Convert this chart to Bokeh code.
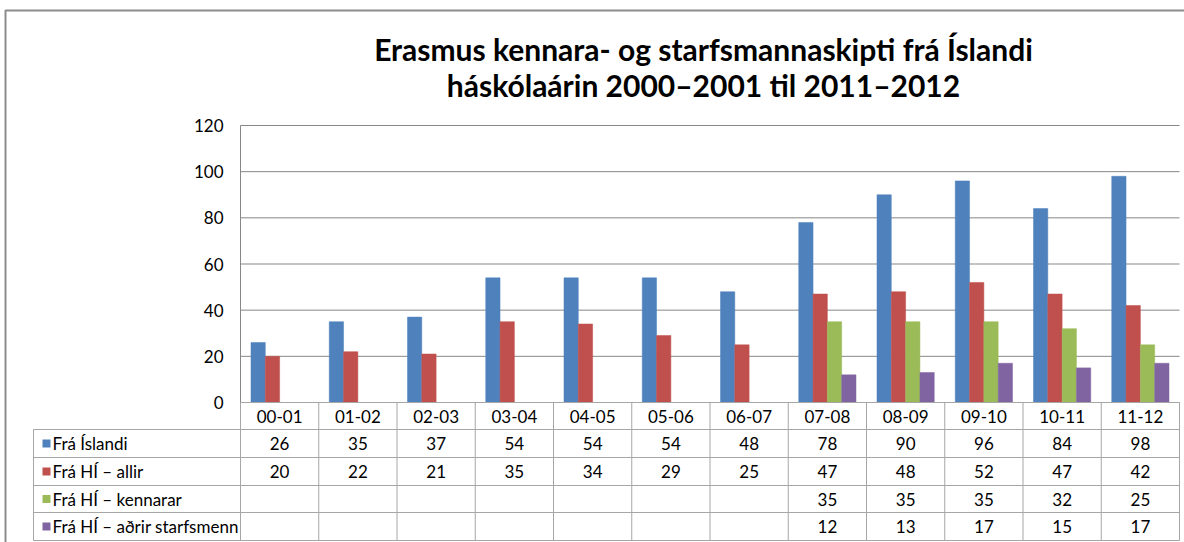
from bokeh.plotting import figure
from bokeh.models import Range1d, ColumnDataSource
from bokeh.core.properties import value
from bokeh.embed import file_html
from bokeh.resources import INLINE

# ---------------- data ----------------
categories = ["00-01", "01-02", "02-03", "03-04", "04-05", "05-06",
              "06-07", "07-08", "08-09", "09-10", "10-11", "11-12"]
series_names = ["Frá Íslandi", "Frá HÍ – allir", "Frá HÍ – kennarar",
                "Frá HÍ – aðrir starfsmenn"]
fra_islandi = [26, 35, 37, 54, 54, 54, 48, 78, 90, 96, 84, 98]
fra_hi_allir = [20, 22, 21, 35, 34, 29, 25, 47, 48, 52, 47, 42]
fra_hi_kennarar = [None, None, None, None, None, None, None, 35, 35, 35, 32, 25]
fra_hi_adrir = [None, None, None, None, None, None, None, 12, 13, 17, 15, 17]
y_ticks = [0, 20, 40, 60, 80, 100, 120]
title_lines = ["Erasmus kennara- og starfsmannaskipti frá Íslandi",
               "háskólaárin 2000–2001 til 2011–2012"]

series_values = [fra_islandi, fra_hi_allir, fra_hi_kennarar, fra_hi_adrir]
colors = ["#4F81BD", "#C0504D", "#9BBB59", "#8064A2"]

# ---------------- layout (page pixels -> data units) ----------------
W, H = 1184, 542
PAGE_OFF = 0
X0_PX = 240.0        # page x of category axis start
CAT_PX = 78.25       # page px per category
Y0_PX = 402.0        # page y of value 0
UNIT_PX = 277.0 / 120.0  # page px per value unit

def dx(px):
    return (px - X0_PX) / CAT_PX

def dy(py):
    return (Y0_PX - py) / UNIT_PX

FONT = "Lato"
FS = "17px"

p = figure(width=W, height=H, output_backend="svg", toolbar_location=None,
           x_range=Range1d(dx(PAGE_OFF), dx(PAGE_OFF + W)),
           y_range=Range1d(dy(PAGE_OFF + H), dy(PAGE_OFF)),
           min_border=0, min_border_left=0, min_border_right=0,
           min_border_top=0, min_border_bottom=0)
p.axis.visible = False
p.grid.visible = False
p.outline_line_color = None
p.background_fill_color = "white"
p.border_fill_color = "white"

n = len(categories)

# outer chart frame (left and top edges visible)
p.line(x=[dx(5), dx(5), dx(1190)], y=[dy(545), dy(10), dy(10)],
       line_color="#8C8C8C", line_width=2)

# title
for i, t in enumerate(title_lines):
    p.text(x=[dx(703)], y=[dy(48 + 36 * i)], text=[t],
           text_font=value(FONT), text_font_style="bold",
           text_font_size="30px", text_align="center",
           text_baseline="middle", text_color="#000000")

# gridlines
p.segment(x0=[0] * len(y_ticks), x1=[n] * len(y_ticks),
          y0=y_ticks, y1=y_ticks, line_color="#878787", line_width=1)
# value axis line
p.segment(x0=[0], x1=[0], y0=[0], y1=[y_ticks[-1]],
          line_color="#878787", line_width=1)

# y tick labels
p.text(x=[dx(223)] * len(y_ticks), y=y_ticks, text=[str(v) for v in y_ticks],
       text_font=value(FONT), text_font_size=FS, text_align="right",
       text_baseline="middle", text_color="#000000")

# bars
bar_w = 14.3 / CAT_PX
offsets = [-0.2745, -0.0915, 0.0915, 0.2745]
for s, vals in enumerate(series_values):
    xs, tops = [], []
    for i, v in enumerate(vals):
        if v is not None:
            xs.append(i + 0.5 + offsets[s])
            tops.append(v)
    src = ColumnDataSource(dict(x=xs, top=tops))
    p.vbar(x="x", top="top", bottom=0, width=bar_w, source=src,
           fill_color=colors[s], line_color=colors[s], line_width=0.5)

# ---------------- data table ----------------
row_edges_px = [402, 429, 457, 485, 512, 540]
table_left = dx(33)
grid_col = "#A6A6A6"
# horizontal lines
hx0, hx1, hy = [], [], []
for k, ry in enumerate(row_edges_px):
    hx0.append(0 if k == 0 else table_left)
    hx1.append(n)
    hy.append(dy(ry))
p.segment(x0=hx0, x1=hx1, y0=hy, y1=hy, line_color=grid_col, line_width=1)
# vertical lines
vx = list(range(n + 1))
p.segment(x0=vx, x1=vx, y0=[dy(row_edges_px[0])] * len(vx),
          y1=[dy(row_edges_px[-1])] * len(vx), line_color=grid_col, line_width=1)
p.segment(x0=[table_left], x1=[table_left], y0=[dy(row_edges_px[1])],
          y1=[dy(row_edges_px[-1])], line_color=grid_col, line_width=1)

# category labels
hdr_y = dy((row_edges_px[0] + row_edges_px[1]) / 2)
p.text(x=[i + 0.5 for i in range(n)], y=[hdr_y] * n, text=categories,
       text_font=value(FONT), text_font_size=FS, text_align="center",
       text_baseline="middle", text_color="#000000")

# series rows
for s, vals in enumerate(series_values):
    ry = dy((row_edges_px[s + 1] + row_edges_px[s + 2]) / 2)
    # legend key
    p.rect(x=[dx(46)], y=[ry], width=8 / CAT_PX, height=8 / UNIT_PX,
           fill_color=colors[s], line_color=None)
    p.text(x=[dx(52)], y=[ry], text=[series_names[s]],
           text_font=value(FONT), text_font_size=FS, text_align="left",
           text_baseline="middle", text_color="#000000")
    xs, labels = [], []
    for i, v in enumerate(vals):
        if v is not None:
            xs.append(i + 0.5)
            labels.append(str(v))
    p.text(x=xs, y=[ry] * len(xs), text=labels,
           text_font=value(FONT), text_font_size=FS, text_align="center",
           text_baseline="middle", text_color="#000000")

open("out.html", "w").write(file_html(p, INLINE))
